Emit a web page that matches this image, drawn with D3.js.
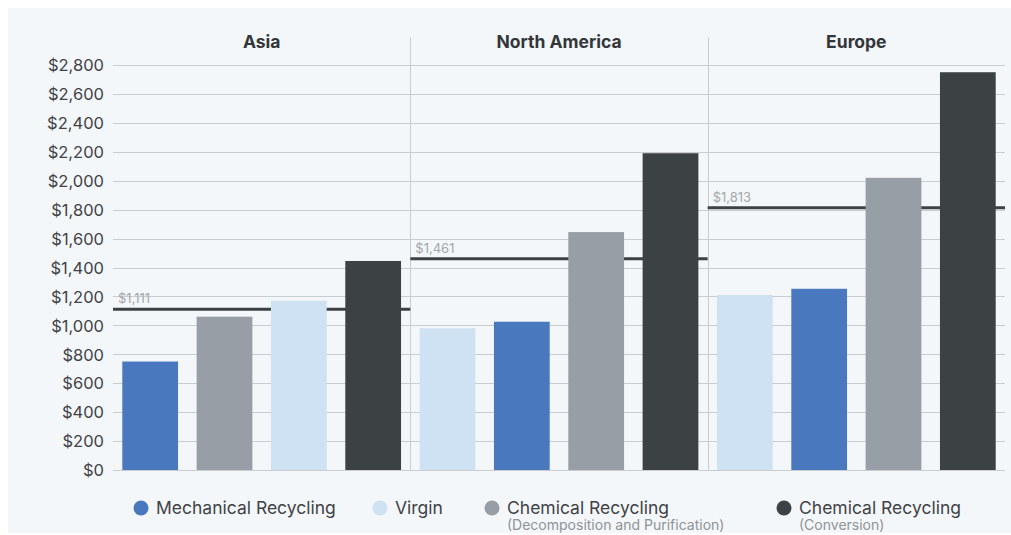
<!DOCTYPE html>
<html>
<head>
<meta charset="utf-8">
<script src="https://cdn.jsdelivr.net/npm/d3@7"></script>
<style>
  html, body { margin: 0; padding: 0; background: #ffffff; }
  svg { display: block; }
  text { font-family: "Inter", "Open Sans", sans-serif; }
</style>
</head>
<body>
<svg id="chart" width="1011" height="535"></svg>
<script>
// ---- data ----
const regions = ["Asia", "North America", "Europe"];
const seriesNames = ["Mechanical Recycling", "Virgin", "Chemical Recycling (Decomposition and Purification)", "Chemical Recycling (Conversion)"];
const asiaValues = [750, 1170, 1060, 1445];
const northAmericaValues = [1025, 980, 1645, 2190];
const europeValues = [1253, 1210, 2020, 2750];
const averageValues = [1111, 1461, 1813];
const averageLabels = ["$1,111", "$1,461", "$1,813"];
const yTicks = [0, 200, 400, 600, 800, 1000, 1200, 1400, 1600, 1800, 2000, 2200, 2400, 2600, 2800];
const legendLabels = ["Mechanical Recycling", "Virgin", "Chemical Recycling", "Chemical Recycling"];
const legendSubLabels = ["", "", "(Decomposition and Purification)", "(Conversion)"];
const colors = ["#4a78be", "#cfe2f3", "#979ea6", "#3c4144"];

const regionValues = [asiaValues, northAmericaValues, europeValues];

// ---- layout ----
const svg = d3.select("#chart");
const plotLeft = 113, plotRight = 1005, plotTop = 65, plotBottom = 470;

svg.append("rect").attr("x", 8).attr("y", 8).attr("width", 1003).attr("height", 525).attr("fill", "#f4f7f9");

const y = d3.scaleLinear().domain([0, 2800]).range([plotBottom, plotTop]);
const xRegion = d3.scaleBand().domain(regions).range([plotLeft, plotRight]).padding(0);

// gridlines
svg.append("g").selectAll("line").data(yTicks).join("line")
  .attr("x1", plotLeft).attr("x2", plotRight)
  .attr("y1", d => Math.round(y(d)) + 0.5).attr("y2", d => Math.round(y(d)) + 0.5)
  .attr("stroke", "#c9cdd2").attr("stroke-width", 1);

// y axis labels
const yAxis = d3.axisLeft(y).tickValues(yTicks).tickSize(0).tickPadding(0)
  .tickFormat(d => "$" + d3.format(",")(d));
const yg = svg.append("g").attr("transform", `translate(${104},0)`).call(yAxis);
yg.select(".domain").remove();
yg.selectAll("text").attr("fill", "#3f4246").style("font-size", "16.5px")
  .style("font-family", "Inter, 'Open Sans', sans-serif").attr("dy", "0.35em");

// dividers
svg.append("g").selectAll("line").data(regions.slice(1)).join("line")
  .attr("x1", d => Math.round(xRegion(d)) + 0.5).attr("x2", d => Math.round(xRegion(d)) + 0.5)
  .attr("y1", 37).attr("y2", plotBottom)
  .attr("stroke", "#c9cdd2").attr("stroke-width", 1);

// region titles
svg.append("g").selectAll("text").data(regions).join("text")
  .attr("x", d => xRegion(d) + xRegion.bandwidth() / 2).attr("y", 48)
  .attr("text-anchor", "middle").attr("fill", "#333639")
  .style("font-size", "17.5px").style("font-weight", "700").text(d => d);

regions.forEach((reg, ri) => {
  const vals = regionValues[ri].map((v, si) => ({ v, si }));
  vals.sort((a, b) => a.v - b.v);
  const x0 = xRegion(reg);
  const xb = d3.scaleBand().domain(vals.map(d => d.si))
    .range([x0, x0 + xRegion.bandwidth()]).paddingInner(0.25).paddingOuter(0.125);
  const g = svg.append("g");
  // average line (behind bars)
  g.append("line")
    .attr("x1", x0).attr("x2", x0 + xRegion.bandwidth())
    .attr("y1", y(averageValues[ri])).attr("y2", y(averageValues[ri]))
    .attr("stroke", "#3c4144").attr("stroke-width", 3);
  g.append("text").attr("x", x0 + 5).attr("y", y(averageValues[ri]) - 6)
    .attr("fill", "#a3a7ab").style("font-size", "13px").text(averageLabels[ri]);
  g.selectAll("rect").data(vals).join("rect")
    .attr("x", d => xb(d.si)).attr("width", xb.bandwidth())
    .attr("y", d => y(d.v)).attr("height", d => plotBottom - y(d.v))
    .attr("fill", d => colors[d.si]);
});

// legend
const legendX = [141, 380, 492, 784];
const lg = svg.append("g");
legendLabels.forEach((lab, i) => {
  lg.append("circle").attr("cx", legendX[i]).attr("cy", 508).attr("r", 7.5).attr("fill", colors[i]);
  lg.append("text").attr("x", legendX[i] + 15).attr("y", 514).attr("fill", "#3f4246")
    .style("font-size", "17.5px").text(lab);
  if (legendSubLabels[i]) {
    lg.append("text").attr("x", legendX[i] + 15).attr("y", 530).attr("fill", "#8f9398")
      .style("font-size", "14px").text(legendSubLabels[i]);
  }
});
</script>
</body>
</html>
